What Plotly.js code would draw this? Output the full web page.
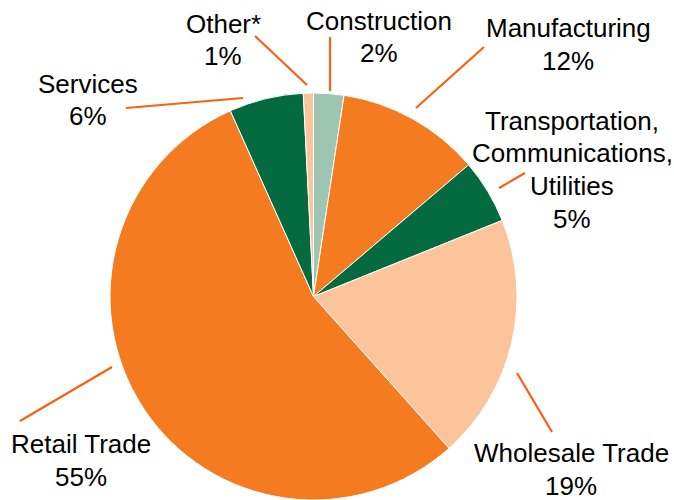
<!DOCTYPE html>
<html>
<head>
<meta charset="utf-8">
<script src="https://cdn.plot.ly/plotly-3.0.1.min.js"></script>
<style>html,body{margin:0;padding:0;background:#fff;}#chart{width:674px;height:500px;}</style>
</head>
<body>
<div id="chart"></div>
<script>
// Data
var categories = ["Construction", "Manufacturing", "Transportation, Communications, Utilities", "Wholesale Trade", "Retail Trade", "Services", "Other*"];
var shares = [2.4, 11.4, 5.1, 19.5, 54.9, 5.9, 0.8];
var sliceColors = ["#9EC4B2", "#F47B20", "#046B40", "#FCC49B", "#F47B20", "#046B40", "#FCC49B"];
var labelLines = [
  ["Construction", "2%"],
  ["Manufacturing", "12%"],
  ["Transportation,", "Communications,", "Utilities", "5%"],
  ["Wholesale Trade", "19%"],
  ["Retail Trade", "55%"],
  ["Services", "6%"],
  ["Other*", "1%"]
];

// Layout config (pixel positions)
var W = 674, H = 500;
var labelPos = [
  {x: 379, y: 30}, {x: 568, y: 37}, {x: 572, y: 130}, {x: 571, y: 462},
  {x: 81, y: 453}, {x: 88, y: 93}, {x: 223, y: 33}
];
var lineStep = 32.5;
var leaders = [
  [330, 37, 330, 91], [484, 47, 416, 108], [525, 173, 499, 188], [517, 373, 552, 432],
  [112, 367, 20, 421], [126, 108, 243, 98], [255, 36, 307, 85]
];
function px(x){return x / W;}
function py(y){return 1 - y / H;}

var annotations = [];
labelLines.forEach(function(lines, i){
  lines.forEach(function(t, j){
    annotations.push({
      xref: "paper", yref: "paper",
      x: px(labelPos[i].x), y: py(labelPos[i].y + j * lineStep - 9),
      xanchor: "center", yanchor: "middle",
      text: t, showarrow: false,
      font: {family: "Liberation Sans, Arial, sans-serif", size: 26, color: "#000"}
    });
  });
});
var shapes = leaders.map(function(l){
  return {type: "line", xref: "paper", yref: "paper",
    x0: px(l[0]), y0: py(l[1]), x1: px(l[2]), y1: py(l[3]),
    line: {color: "#F9600F", width: 2.2}};
});

var trace = {
  type: "pie",
  labels: categories,
  values: shares,
  sort: false,
  direction: "clockwise",
  rotation: 0,
  textinfo: "none",
  hoverinfo: "label+percent",
  marker: {colors: sliceColors, line: {color: "#fff", width: 1}},
  domain: {x: [(313.5 - 204) / W, (313.5 + 204) / W], y: [0, 407 / H]},
  showlegend: false
};

Plotly.newPlot("chart", [trace], {
  width: W, height: H,
  margin: {l: 0, r: 0, t: 0, b: 0},
  paper_bgcolor: "#fff",
  showlegend: false,
  annotations: annotations,
  shapes: shapes
}, {displayModeBar: false, staticPlot: true});
</script>
</body>
</html>
